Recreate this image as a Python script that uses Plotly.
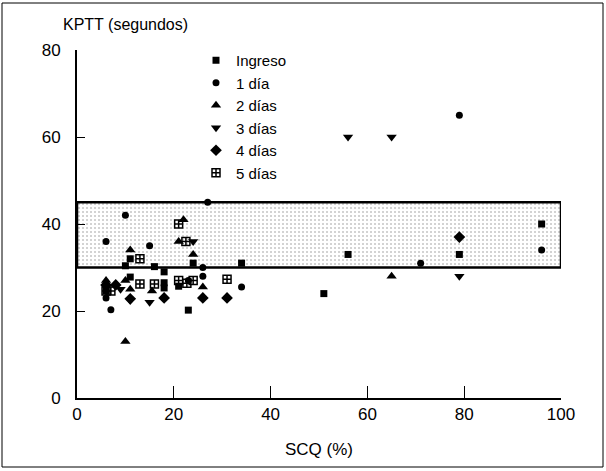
import plotly.graph_objects as go

# ---- data ----
series_names = ["Ingreso", "1 día", "2 días", "3 días", "4 días", "5 días"]

ingreso_x = [96, 79, 56, 51, 34, 10, 16, 18, 24, 11, 23, 18, 18, 11, 6, 21]
ingreso_y = [40, 33, 33, 24, 31, 30.4, 30.2, 29, 31, 32, 20.2, 26.5, 25.3, 27.8, 24.6, 25.7]

dia1_x = [79, 96, 71, 27, 10, 6, 15, 26, 26, 34, 6, 7, 23]
dia1_y = [65, 34, 31, 45, 42, 36, 35, 30, 28, 25.5, 23, 20.3, 27]

dia2_x = [65, 22, 21, 24, 11, 6, 10, 11, 15.5, 26, 10]
dia2_y = [28, 41, 36, 33, 34, 27, 13, 25, 24.6, 25.5, 27]

dia3_x = [56, 65, 79, 24, 15, 11, 9]
dia3_y = [60, 60, 28, 36, 22, 22.5, 25]

dia4_x = [79, 18, 26, 31, 11, 8, 6]
dia4_y = [37, 23, 23, 23, 22.8, 26, 26]

dia5_x = [21, 22.5, 13, 13, 16, 24, 31, 6, 21, 22.7, 7]
dia5_y = [40, 36, 32, 26.2, 26.2, 27, 27.3, 24.6, 27, 26.4, 24.6]

band_low, band_high = 30, 45
x_range = [0, 100]
y_range = [0, 80]
x_ticks = [0, 20, 40, 60, 80, 100]
y_ticks = [0, 20, 40, 60, 80]

# ---- figure ----
W, H = 606, 471
L, R, T, B = 77, 45, 50, 73
pw, ph = W - L - R, H - T - B

FONT = "Liberation Sans, Arial, sans-serif"

fig = go.Figure()

# normal-range band
fig.add_trace(go.Scatter(
    x=[x_range[0], x_range[1], x_range[1], x_range[0], x_range[0]],
    y=[band_low, band_low, band_high, band_high, band_low],
    mode="lines", fill="toself", fillcolor="rgba(0,0,0,0)",
    fillpattern=dict(shape=".", fgcolor="#8a8a8a", bgcolor="#ffffff", size=4, solidity=0.2),
    line=dict(color="black", width=2.5), hoverinfo="skip", showlegend=False,
))

styles = [
    (ingreso_x, ingreso_y, dict(symbol="square", size=7, color="black")),
    (dia1_x, dia1_y, dict(symbol="circle", size=7, color="black")),
    (dia2_x, dia2_y, dict(symbol="triangle-up", size=9, color="black")),
    (dia3_x, dia3_y, dict(symbol="triangle-down", size=9, color="black")),
    (dia4_x, dia4_y, dict(symbol="diamond", size=9, color="black")),
    (dia5_x, dia5_y, dict(symbol="square-cross-open", size=8, color="black", line=dict(width=1.5))),
]
for name, (xs, ys, mk) in zip(series_names, styles):
    fig.add_trace(go.Scatter(x=xs, y=ys, mode="markers", name=name, marker=mk))

def px_to_paper_x(px):
    return (px - L) / pw

def px_to_paper_y(py):
    return (H - B - py) / ph

fig.update_layout(
    width=W, height=H,
    margin=dict(l=L, r=R, t=T, b=B, autoexpand=False),
    paper_bgcolor="white", plot_bgcolor="white",
    font=dict(family=FONT, size=15, color="black"),
    showlegend=True,
    legend=dict(
        x=px_to_paper_x(196), y=px_to_paper_y(44), xanchor="left", yanchor="top",
        bgcolor="rgba(0,0,0,0)", font=dict(size=15, family=FONT),
        tracegroupgap=0, itemwidth=30,
    ),
    xaxis=dict(
        range=x_range, tickvals=x_ticks, ticks="inside", ticklen=12, tickwidth=1,
        tickcolor="black", showline=True, linecolor="black", linewidth=2,
        showgrid=False, zeroline=False, tickfont=dict(size=17),
        title=dict(text="SCQ (%)", font=dict(size=17), standoff=20),
    ),
    yaxis=dict(
        range=y_range, tickvals=y_ticks, ticks="inside", ticklen=8, tickwidth=1,
        tickcolor="black", showline=True, linecolor="black", linewidth=2,
        showgrid=False, zeroline=False, tickfont=dict(size=17), ticklabelstandoff=11,
    ),
    annotations=[dict(
        text="KPTT (segundos)", xref="paper", yref="paper",
        x=px_to_paper_x(61), y=px_to_paper_y(25), xanchor="left", yanchor="middle",
        showarrow=False, font=dict(size=16, family=FONT),
    )],
    shapes=[dict(
        type="rect", xref="paper", yref="paper",
        x0=px_to_paper_x(2), x1=px_to_paper_x(603), y0=px_to_paper_y(467), y1=px_to_paper_y(3),
        line=dict(color="black", width=1), fillcolor="rgba(0,0,0,0)", layer="below",
    )],
)

# remove the browser's default 8px body margin so the figure sits at the page origin
fig.write_html(
    "out.html",
    config={"displayModeBar": False},
    post_script="document.body.style.margin='0';",
)
